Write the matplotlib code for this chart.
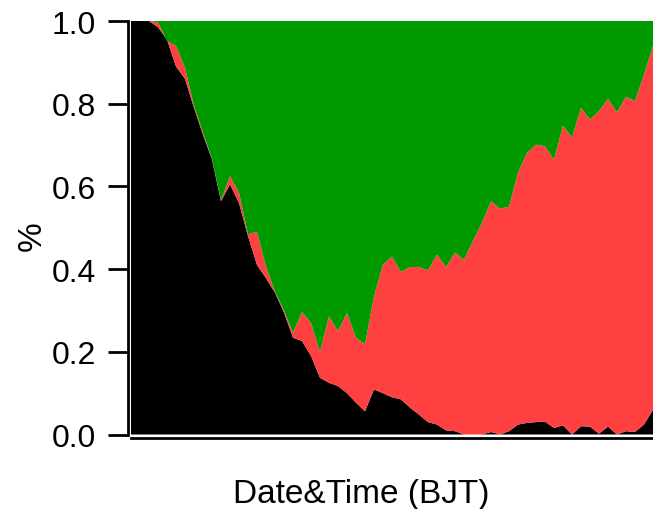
import numpy as np
import matplotlib
matplotlib.use("Agg")
import matplotlib.pyplot as plt

plt.rcParams['font.family'] = ['Liberation Sans', 'DejaVu Sans']

# fraction of each class over time (59 samples)
black = [1.0, 1.0, 1.0, 0.985, 0.955, 0.89, 0.86, 0.79, 0.725, 0.665,
         0.564, 0.605, 0.56, 0.48, 0.41, 0.378, 0.343, 0.295, 0.234, 0.226,
         0.19, 0.137, 0.125, 0.117, 0.10, 0.077, 0.056, 0.109, 0.10, 0.09,
         0.085, 0.065, 0.048, 0.03, 0.024, 0.01, 0.008, 0.0, 0.0, 0.0,
         0.006, 0.0, 0.008, 0.024, 0.028, 0.03, 0.031, 0.016, 0.022, 0.0,
         0.02, 0.019, 0.002, 0.019, 0.0, 0.008, 0.006, 0.024, 0.06]
# black + red
total = [1.0, 1.0, 1.0, 0.997, 0.952, 0.94, 0.887, 0.795, 0.73, 0.667,
         0.566, 0.625, 0.585, 0.484, 0.49, 0.407, 0.345, 0.30, 0.246, 0.296,
         0.27, 0.20, 0.286, 0.25, 0.294, 0.234, 0.218, 0.334, 0.411, 0.43,
         0.393, 0.405, 0.405, 0.397, 0.435, 0.405, 0.44, 0.422, 0.468, 0.512,
         0.564, 0.546, 0.551, 0.633, 0.681, 0.701, 0.697, 0.665, 0.747, 0.718,
         0.79, 0.762, 0.782, 0.812, 0.779, 0.817, 0.806, 0.87, 0.94]

black = np.array(black)
red = np.array(total) - black
green = 1 - np.array(total)
t = np.arange(len(black))

fig = plt.figure(figsize=(6.53, 5.10), dpi=100)
ax = fig.add_axes([131/653, (510-435.5)/510, (653-131)/653, (435.5-22)/510])

ax.stackplot(t, black, red, green, colors=['#000000', '#FF4040', '#009900'],
             linewidth=0)

ax.set_xlim(t[0], t[-1])
ax.set_ylim(0, 1)
ax.set_yticks([0.0, 0.2, 0.4, 0.6, 0.8, 1.0])
ax.set_yticklabels(['0.0', '0.2', '0.4', '0.6', '0.8', '1.0'])
ax.set_xticks([])

for s in ['top', 'right']:
    ax.spines[s].set_visible(False)
ax.spines['left'].set_position(('outward', 2.5))
ax.spines['bottom'].set_position(('outward', 2.2))
ax.spines['left'].set_linewidth(2)
ax.spines['bottom'].set_linewidth(2)
ax.tick_params(axis='y', direction='out', length=14.5, width=2, pad=8,
               labelsize=23)

ax.set_ylabel('%', fontsize=24)
ax.yaxis.set_label_coords(-0.16, 0.482)
ax.set_xlabel('Date&Time (BJT)', fontsize=24)
ax.xaxis.set_label_coords((361-131)/522, -0.104)

fig.savefig('out.png', dpi=100)
